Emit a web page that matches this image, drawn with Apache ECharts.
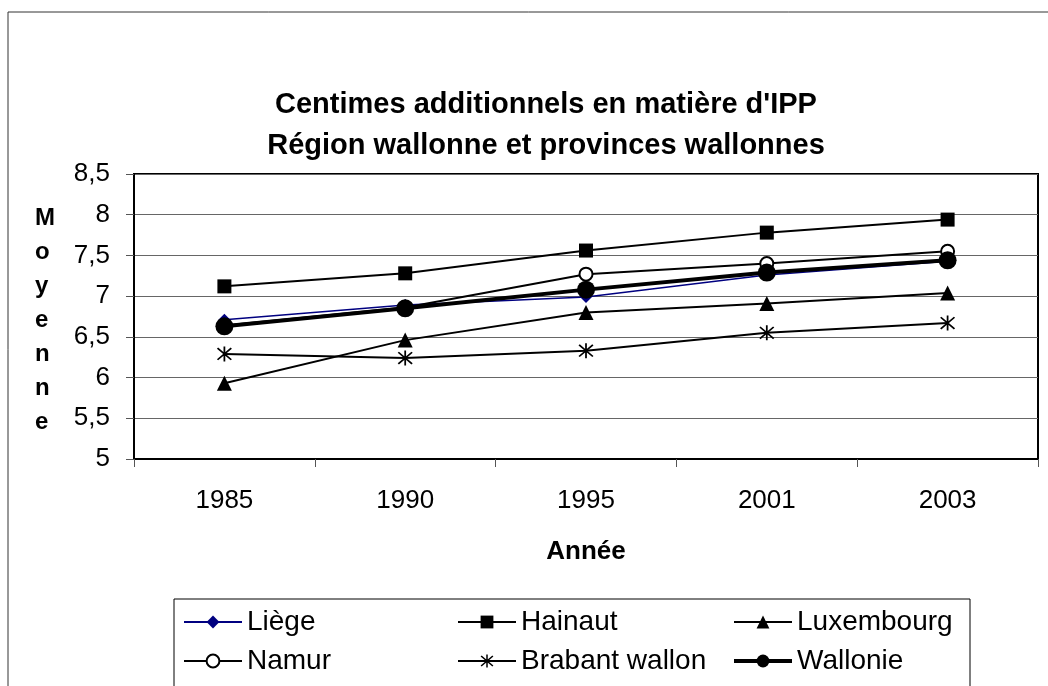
<!DOCTYPE html>
<html><head><meta charset="utf-8">
<script src="https://cdn.jsdelivr.net/npm/echarts@6/dist/echarts.min.js"></script>
<style>html,body{margin:0;padding:0;background:#fff}#c{width:1048px;height:686px}</style>
</head><body><div id="c"></div>
<script>
const years = ['1985','1990','1995','2001','2003'];
const liege = [6.71, 6.89, 6.99, 7.26, 7.43];
const hainaut = [7.12, 7.28, 7.56, 7.78, 7.94];
const luxembourg = [5.93, 6.46, 6.80, 6.91, 7.04];
const namur = [6.64, 6.86, 7.27, 7.40, 7.55];
const brabant = [6.29, 6.24, 6.33, 6.55, 6.67];
const wallonie = [6.63, 6.85, 7.08, 7.29, 7.44];
const yTicks = [5, 5.5, 6, 6.5, 7, 7.5, 8, 8.5];

const FONT = '"Liberation Sans", Arial, sans-serif';
const ASTER = 'path://M9 0 H11 V20 H9 Z M1.5 2.9 L2.9 1.5 L18.5 17.1 L17.1 18.5 Z M17.1 1.5 L18.5 2.9 L2.9 18.5 L1.5 17.1 Z';

const chart = echarts.init(document.getElementById('c'), null, {renderer:'canvas'});
const legendText = {fontFamily: FONT, fontSize: 28, color: '#000', lineHeight:30};
function lg(left, names){
  return {orient:'vertical', left:left, top:607, itemWidth:58, itemHeight:16, itemGap:9, padding:0,
    textStyle:legendText, selectedMode:false,
    data:names.map(n => ({name:n, lineStyle:{width: n === 'Wallonie' ? 4 : 2}}))};
}
chart.setOption({
  animation:false,
  textStyle:{fontFamily:FONT},
  title:{text:"Centimes additionnels en matière d'IPP\nRégion wallonne et provinces wallonnes",
    left:541, textAlign:'center', top:79,
    textStyle:{fontFamily:FONT, fontSize:29, fontWeight:'bold', color:'#000', lineHeight:41}},
  legend:[lg(183,['Liège','Namur']), lg(457,['Hainaut','Brabant wallon']), lg(732,['Luxembourg','Wallonie'])],
  grid:{left:134, right:10, top:174, height:285, show:true, borderColor:'#000', borderWidth:2, backgroundColor:'#fff'},
  xAxis:{type:'category', data:years, boundaryGap:true,
    axisLine:{lineStyle:{color:'#000', width:2}},
    axisTick:{show:true, length:8, lineStyle:{color:'#555'}},
    axisLabel:{fontFamily:FONT, fontSize:26, color:'#000', margin:29},
    name:'Année', nameLocation:'middle', nameGap:80,
    nameTextStyle:{fontFamily:FONT, fontSize:26, fontWeight:'bold', color:'#000'}},
  yAxis:{type:'value', min:yTicks[0], max:yTicks[yTicks.length-1], interval:0.5,
    axisLine:{show:true, lineStyle:{color:'#000', width:2}},
    axisTick:{show:true, length:8, lineStyle:{color:'#555'}},
    axisLabel:{fontFamily:FONT, fontSize:26, color:'#000', margin:24,
      formatter:v=>String(v).replace('.',',')},
    splitLine:{lineStyle:{color:'#666', width:1}}},
  graphic:[
    {type:'rect', shape:{x:8, y:12, width:1100, height:700}, style:{fill:'none', stroke:'#333', lineWidth:1}, z:-10},
    {type:'rect', shape:{x:174, y:599, width:796, height:120}, style:{fill:'none', stroke:'#000', lineWidth:1}},
    {type:'text', left:35, top:201, style:{text:'M\no\ny\ne\nn\nn\ne', font:'bold 24px '+FONT, fill:'#000', align:'center', lineHeight:34, width:28}}
  ],
  series:[
    {name:'Liège', type:'line', data:liege, symbol:'diamond', symbolSize:12,
      lineStyle:{color:'#000080', width:1.5}, itemStyle:{color:'#000080'}, z:2},
    {name:'Hainaut', type:'line', data:hainaut, symbol:'rect', symbolSize:14,
      lineStyle:{color:'#000', width:2}, itemStyle:{color:'#000'}, z:2},
    {name:'Luxembourg', type:'line', data:luxembourg, symbol:'triangle', symbolSize:15,
      lineStyle:{color:'#000', width:2}, itemStyle:{color:'#000'}, z:2},
    {name:'Namur', type:'line', data:namur, symbol:'emptyCircle', symbolSize:13,
      lineStyle:{color:'#000', width:2}, itemStyle:{color:'#000', borderColor:'#000', borderWidth:1.5}, z:2},
    {name:'Brabant wallon', type:'line', data:brabant, symbol:ASTER, symbolSize:15,
      lineStyle:{color:'#000', width:2}, itemStyle:{color:'#000'}, z:2},
    {name:'Wallonie', type:'line', data:wallonie, symbol:'circle', symbolSize:18,
      lineStyle:{color:'#000', width:4}, itemStyle:{color:'#000'}, z:3}
  ]
});
</script></body></html>
